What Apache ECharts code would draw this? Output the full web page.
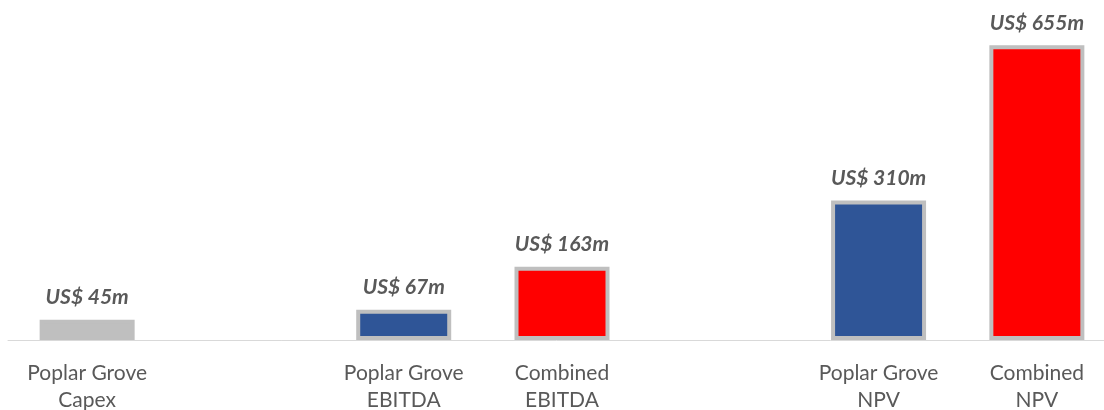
<!DOCTYPE html>
<html>
<head>
<meta charset="utf-8">
<script src="https://cdn.jsdelivr.net/npm/echarts@6/dist/echarts.min.js"></script>
<style>html,body{margin:0;padding:0;background:#fff}#c{width:1104px;height:410px}</style>
</head>
<body>
<div id="c"></div>
<script>
const categories = ['Poplar Grove\nCapex', '', 'Poplar Grove\nEBITDA', 'Combined\nEBITDA', '', 'Poplar Grove\nNPV', 'Combined\nNPV'];
const values = [45, null, 67, 163, null, 310, 655];
const labels = ['US$ 45m', '', 'US$ 67m', 'US$ 163m', '', 'US$ 310m', 'US$ 655m'];
const groups = ['capex', '', 'poplar', 'combined', '', 'poplar', 'combined'];

const fillColors = { capex: '#bfbfbf', poplar: '#2f5597', combined: '#ff0000' };

const chart = echarts.init(document.getElementById('c'));
chart.setOption({
  animation: false,
  grid: { left: 8, top: 25, width: 1108, bottom: 70, containLabel: false, outerBoundsMode: 'none' },
  xAxis: {
    type: 'category',
    data: categories,
    axisLine: { lineStyle: { color: '#d9d9d9', width: 1 } },
    axisTick: { show: false },
    axisLabel: { color: '#595959', fontFamily: 'Lato', fontSize: 21, lineHeight: 27, margin: 20, interval: 0 }
  },
  yAxis: { type: 'value', min: 0, max: 700, show: false, splitLine: { show: false } },
  series: [{
    type: 'bar',
    barWidth: 95,
    data: values.map((v, i) => ({
      value: v,
      itemStyle: { color: fillColors[groups[i]] || '#ccc', borderColor: '#bfbfbf', borderWidth: 4 }
    })),
    label: {
      show: true,
      position: 'top',
      distance: 12,
      color: '#595959',
      fontFamily: 'Lato',
      fontWeight: 'bold',
      fontStyle: 'italic',
      fontSize: 21,
      formatter: p => labels[p.dataIndex]
    }
  }]
});
</script>
</body>
</html>
